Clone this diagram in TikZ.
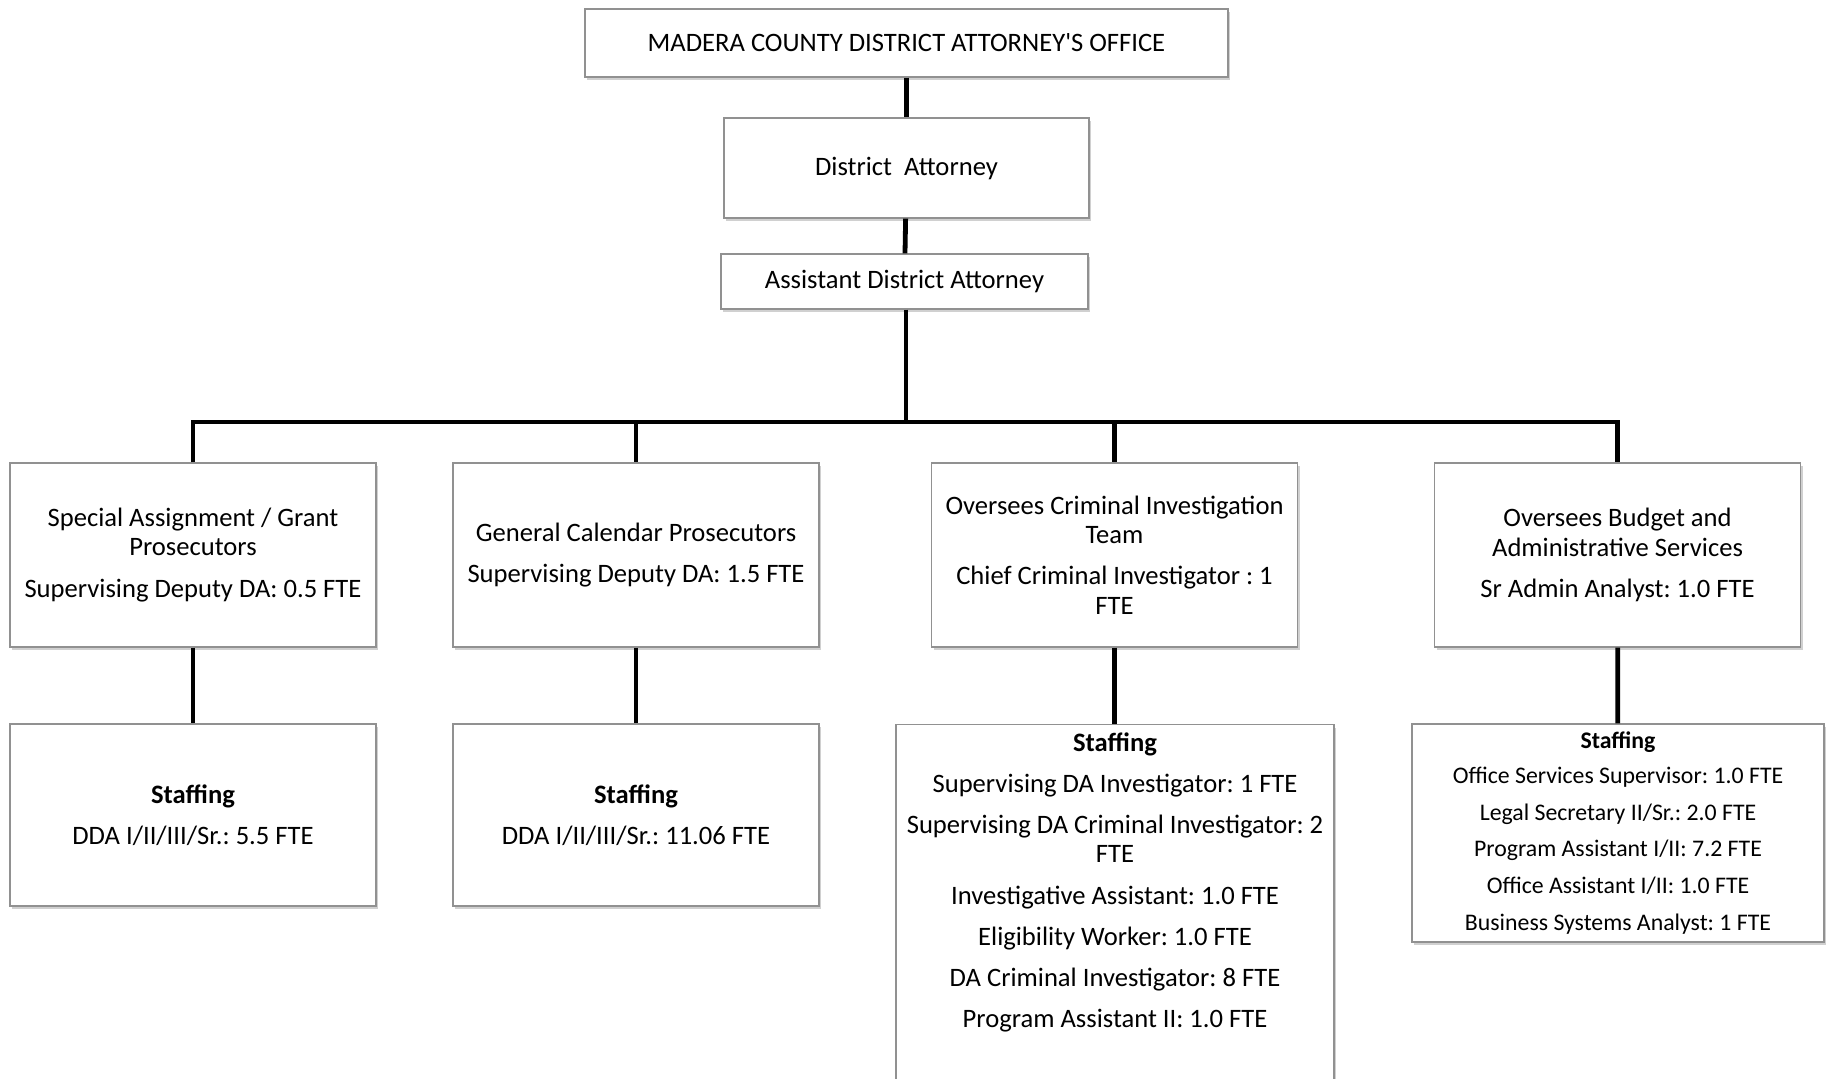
\documentclass[tikz,border=0pt]{standalone}
\usepackage{fontspec}
\setmainfont{Carlito}
\frenchspacing
\usetikzlibrary{shadows}
\definecolor{rahmen}{RGB}{145,145,145}
\definecolor{schatten}{RGB}{120,120,120}

\begin{document}
\begin{tikzpicture}[x=0.5pt, y=-0.5pt,
    font=\fontsize{13.3}{14.6}\selectfont,
    box/.style={draw=rahmen, line width=0.6pt, fill=white, align=center, inner sep=2pt,
        drop shadow={shadow xshift=1.2pt, shadow yshift=-1.6pt, opacity=0.35, fill=schatten}},
    conn/.style={line width=2.4pt, black}]

    \useasboundingbox (0,0) rectangle (1830,1078);
    \clip (0,0) rectangle (1830,1078);

    % top of the chart
    \node[box, minimum width=321.5pt, minimum height=34pt] (office) at (906.5,43) {MADERA COUNTY DISTRICT ATTORNEY\textquotesingle S OFFICE};
    \node[box, minimum width=182.5pt, minimum height=50pt] (da) at (906.5,168) {District\ \ Attorney};
    \node[box, minimum width=183.5pt, minimum height=27.5pt] (ada) at (904.5,281.5) {Assistant District Attorney};

    % second row
    \node[box, minimum width=183pt, minimum height=92pt] (grant) at (193,555)
        {Special Assignment / Grant\\Prosecutors\\[6pt]Supervising Deputy DA: 0.5 FTE};
    \node[box, minimum width=183pt, minimum height=92pt] (general) at (636,555)
        {General Calendar Prosecutors\\[6pt]Supervising Deputy DA: 1.5 FTE};
    \node[box, minimum width=183pt, minimum height=92pt] (invest) at (1114.5,555)
        {Oversees Criminal Investigation\\Team\\[6pt]Chief Criminal Investigator : 1\\FTE};
    \node[box, minimum width=183pt, minimum height=92pt] (budget) at (1617.5,555)
        {Oversees Budget and\\Administrative Services\\[6pt]Sr Admin Analyst: 1.0 FTE};

    % staffing row
    \node[box, minimum width=183pt, minimum height=91pt] (grantstaff) at (193,815)
        {\textbf{Staffing}\\[6pt]DDA I/II/III/Sr.: 5.5 FTE};
    \node[box, minimum width=183pt, minimum height=91pt] (generalstaff) at (636,815)
        {\textbf{Staffing}\\[6pt]DDA I/II/III/Sr.: 11.06 FTE};
    \node[box, minimum width=219pt, anchor=north, inner ysep=4pt] (investstaff) at (1115,724)
        {\textbf{Staffing}\\[6pt]
         Supervising DA Investigator: 1 FTE\\[6pt]
         Supervising DA Criminal Investigator: 2\\FTE\\[6pt]
         Investigative Assistant: 1.0 FTE\\[6pt]
         Eligibility Worker: 1.0 FTE\\[6pt]
         DA Criminal Investigator: 8 FTE\\[6pt]
         Program Assistant II: 1.0 FTE\\[30pt]~};
    \node[box, minimum width=206pt, minimum height=109pt, font=\fontsize{11.9}{13}\selectfont] (budgetstaff) at (1618,833)
        {\textbf{Staffing}\\[4.5pt]
         Office Services Supervisor: 1.0 FTE\\[5.4pt]
         Legal Secretary II/Sr.: 2.0 FTE\\[5.4pt]
         Program Assistant I/II: 7.2 FTE\\[5.4pt]
         Office Assistant I/II: 1.0 FTE\\[5.4pt]
         Business Systems Analyst: 1 FTE};

    \coordinate (bar) at (906,422);

    \draw[conn] (office) -- (da);
    \draw[conn] (da) -- (ada);
    \draw[conn] (ada.south -| bar) -- (bar);
    \draw[conn] (grant.north) |- (bar) -| (budget.north);
    \draw[conn] (bar -| general.north) -- (general.north);
    \draw[conn] (bar -| invest.north) -- (invest.north);

    \draw[conn] (grant) -- (grantstaff);
    \draw[conn] (general) -- (generalstaff);
    \draw[conn] (invest.south) -- (investstaff.north -| invest.south);
    \draw[conn] (budget) -- (budgetstaff);

\end{tikzpicture}
\end{document}
